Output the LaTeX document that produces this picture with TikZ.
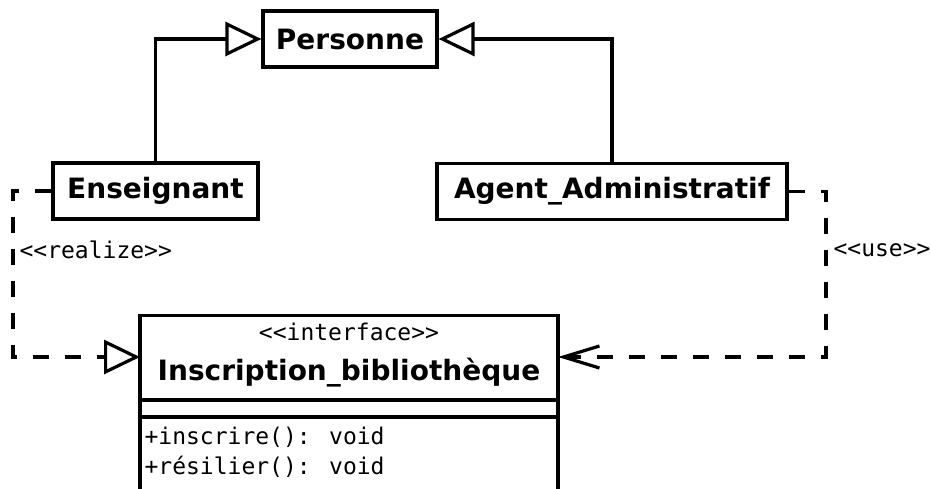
\documentclass[tikz,border=0pt]{standalone}
\usepackage{fontspec}
\setmainfont{DejaVu Sans}
\newfontfamily\monof{DejaVu Sans Mono}[Ligatures=TeXOff]
\usetikzlibrary{arrows.meta}
\begin{document}
\begin{tikzpicture}[x=1pt,y=-1pt,
  line width=3.2pt,
  cls/.style={draw,rectangle,inner sep=0pt,minimum height=56pt,font=\fontsize{28}{32}\selectfont\bfseries},
  lbl/.style={inner sep=0pt,font=\monof\fontsize{23}{28}\selectfont},
  gen/.style={-{Triangle[open,length=36pt,width=34pt,line width=3.2pt]}},
  realize/.style={dash pattern=on 16pt off 16pt,-{Triangle[open,length=36pt,width=34pt,line width=3.2pt]}},
  usedep/.style={dash pattern=on 16pt off 16pt,-{Straight Barb[length=36pt,width=22pt,line width=3.2pt]}}]
\useasboundingbox (0,0) rectangle (930,488);
\begin{scope}
\clip (0,0) rectangle (930,488);
\node[cls,minimum width=174pt] (pers) at (350,39) {Personne};
\node[cls,minimum width=205pt] (ens) at (155.5,191) {Enseignant};
\node[cls,minimum width=350pt] (agent) at (612,191.5) {Agent\_Administratif};
\node[draw,rectangle,inner sep=0pt,minimum width=418pt,minimum height=200pt,anchor=north] (iface) at (349,314) {};
\coordinate (ihw) at (140,357);
\coordinate (ihe) at (558,357);
\draw ([yshift=-86pt]iface.north west) -- ([yshift=-86pt]iface.north east);
\draw ([yshift=-103pt]iface.north west) -- ([yshift=-103pt]iface.north east);
\node[lbl] (istereo) at (349,332) {<<interface>>};
\node[inner sep=0pt,font=\fontsize{28}{32}\selectfont\bfseries] (iname) at (349,373) {Inscription\_bibliothèque};
\node[lbl,anchor=west] (m1) at (143,437) {+inscrire(): void};
\node[lbl,anchor=west] (m2) at (143,467) {+résilier(): void};
\node[lbl,anchor=west] (lreal) at (18,250) {<<realize>>};
\node[lbl,anchor=west] (luse) at (832,250) {<<use>>};
\coordinate (r1) at (13,191);
\coordinate (r2) at (13,357);
\coordinate (u1) at (826,191.5);
\coordinate (u2) at (826,357);
\draw[gen] (ens.north) |- (pers.west);
\draw[gen] (agent.north) |- (pers.east);
\draw[realize] (ens.west) -- (r1) -- (r2) -- (ihw);
\draw[usedep] (agent.east) -- (u1) -- (u2) -- (ihe);
\end{scope}
\end{tikzpicture}
\end{document}
